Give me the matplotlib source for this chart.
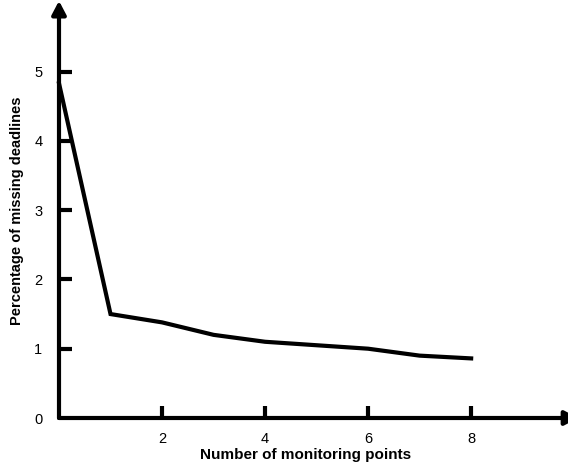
import matplotlib
matplotlib.use("Agg")
import matplotlib.pyplot as plt

monitoring_points = [0, 1, 2, 3, 4, 5, 6, 7, 8]
missing_pct = [4.83, 1.5, 1.38, 1.2, 1.1, 1.05, 1.0, 0.9, 0.86]
x_ticks = [2, 4, 6, 8]
y_ticks = [1, 2, 3, 4, 5]

plt.rcParams['font.family'] = ['Liberation Sans', 'DejaVu Sans']

fig = plt.figure(figsize=(5.68, 4.68), dpi=100)
W, H = 568, 468
x0, y0 = 59, 418
x1, y1 = 568, 5
ax = fig.add_axes([x0 / W, (H - y0) / H, (x1 - x0) / W, (y0 - y1) / H])
ax.set_xlim(0, 9.88)
ax.set_ylim(0, 5.96)

for s in ax.spines.values():
    s.set_visible(False)

# axes with arrowheads
arrow = dict(arrowstyle='-|>,head_length=0.8,head_width=0.42',
             lw=3, color='black', shrinkA=0, shrinkB=0)
ax.annotate('', xy=(10.08, 0), xytext=(0, 0), arrowprops=arrow, annotation_clip=False)
ax.annotate('', xy=(0, 6.02), xytext=(0, 0), arrowprops=arrow, annotation_clip=False)

ax.plot(monitoring_points, missing_pct, color='black', lw=3,
        solid_joinstyle='miter', clip_on=False, zorder=3)

ax.set_xticks(x_ticks)
ax.set_xticklabels([str(t) for t in x_ticks])
ax.set_yticks([0] + y_ticks)
ax.set_yticklabels(['0'] + [str(t) for t in y_ticks])
ax.tick_params(axis='x', direction='in', length=9, width=3, pad=10, labelsize=10.5)
ax.tick_params(axis='y', direction='in', length=9, width=3, pad=12, labelsize=10.5)
ax.yaxis.get_major_ticks()[0].tick1line.set_visible(False)

ax.set_xlabel('Number of monitoring points', fontsize=11, fontweight='bold', va='center')
ax.xaxis.set_label_coords((306 - x0) / (x1 - x0), -(455 - y0) / (y0 - y1))
ax.set_ylabel('Percentage of missing deadlines', fontsize=10.5, fontweight='bold', va='center')
ax.yaxis.set_label_coords(-(x0 - 17) / (x1 - x0), (y0 - 211) / (y0 - y1))

fig.savefig('out.png', dpi=100)
